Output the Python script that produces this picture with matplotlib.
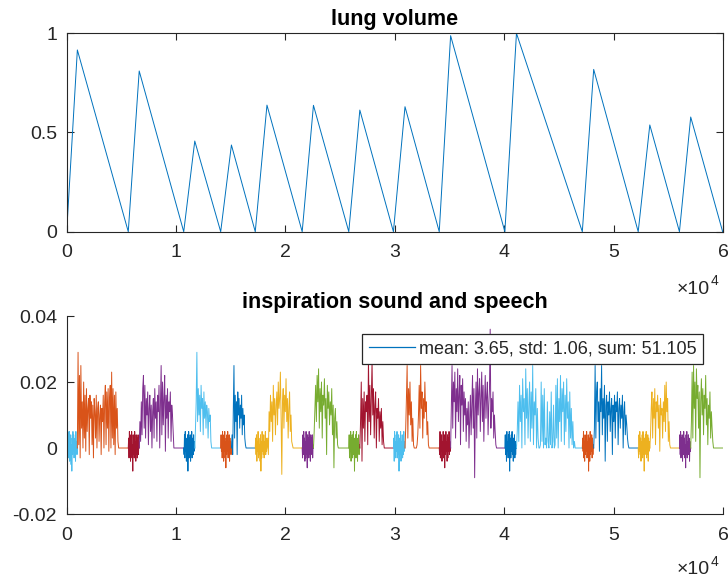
import numpy as np
import matplotlib.pyplot as plt
from matplotlib.lines import Line2D

plt.rcParams['font.family'] = ['Liberation Sans', 'DejaVu Sans']

# turning points of the lung volume trace (samples)
valley_x = [0, 5630, 10700, 14080, 17240, 21530, 25790, 29870, 34060, 40060, 47140, 52250, 56020, 59970]
peak_x = [976, 6630, 11710, 15060, 18310, 22560, 26800, 30930, 35100, 41120, 48180, 53310, 57050]
peak_vol = [0.916, 0.81, 0.457, 0.437, 0.638, 0.637, 0.613, 0.63, 0.988, 1.0, 0.818, 0.538, 0.578]

# where the speech part of each breath goes quiet
speech_end_x = [4750, 9800, 13250, 16400, 20700, 24900, 29100, 33200, 39300, 46700, 51400, 55200, 59200]

# matlab default colours
c_blue = '#0072BD'
c_orange = '#D95319'
c_yellow = '#EDB120'
c_purple = '#7E2F8E'
c_green = '#77AC30'
c_lblue = '#4DBEEE'
c_red = '#A2142F'

insp_colors = [c_lblue, c_red, c_blue, c_orange, c_yellow, c_purple, c_green,
               c_lblue, c_red, c_blue, c_orange, c_yellow, c_purple]
speech_colors = [c_orange, c_purple, c_lblue, c_blue, c_yellow, c_green, c_red,
                 c_orange, c_purple, c_lblue, c_blue, c_yellow, c_green]

# inspiration sound, values in 1e-3
insp_1 = [0, 4, -2, 5, -3, 3, -1, 5, -4, 2, -2, 4, -5, 1, -7, 3, -2, 5, -1, 4, -3, 2, -2, 3, -4, 5, -1, 2, -2, 0]
insp_2 = [0, 3, -3, 5, -2, 4, -4, 2, -1, 5, -3, 1, -7, 4, -2, 3, -3, 5, -1, 2, -4, 4, -2, 3, -3, 1, 4, -2, 2, 0]
insp_3 = [0, -2, 4, -3, 5, -1, 3, -4, 2, -2, 4, -7, 1, 5, -3, 3, -1, 4, -4, 2, -2, 5, -3, 1, 3, -2, 4, -1, 2, 0]
insp_4 = [0, 4, -1, 3, -3, 5, -2, 2, -4, 4, -1, 5, -3, 2, -6, 3, -2, 4, -1, 5, -3, 2, -2, 4, -4, 3, -1, 2, -2, 0]
insp_5 = [0, 3, -2, 4, -4, 2, -1, 5, -3, 3, -2, 1, -4, 4, -7, 2, -3, 5, -1, 3, -2, 4, -3, 2, -1, 5, -2, 3, -1, 0]
insp_6 = [0, -3, 4, -2, 5, -1, 3, -4, 2, -3, 5, -2, 1, -6, 4, -1, 3, -3, 5, -2, 2, -4, 4, -1, 3, -2, 4, -3, 1, 0]
insp_7 = [0, 4, -3, 2, -1, 5, -4, 3, -2, 4, -3, 1, 5, -2, 3, -7, 2, -1, 4, -3, 5, -2, 2, -4, 3, -1, 4, -2, 1, 0]
insp_8 = [0, 3, -4, 5, -2, 2, -3, 4, -1, 5, -3, 2, -2, 4, -7, 1, 3, -2, 5, -4, 2, -1, 4, -3, 3, -2, 5, -1, 2, 0]
insp_9 = [0, -2, 5, -3, 3, -1, 4, -4, 2, -2, 5, -3, 1, 4, -6, 3, -2, 5, -1, 2, -4, 4, -3, 3, -1, 5, -2, 2, -1, 0]
insp_10 = [0, 4, -2, 3, -4, 5, -1, 2, -3, 4, -2, 5, -7, 1, 3, -3, 4, -1, 5, -2, 2, -4, 3, -1, 4, -3, 2, -2, 1, 0]
insp_11 = [0, 3, -1, 5, -3, 2, -4, 4, -2, 3, -1, 5, -3, 2, -2, 4, -7, 1, 3, -4, 5, -2, 2, -1, 4, -3, 3, -2, 1, 0]
insp_12 = [0, -3, 4, -1, 5, -2, 3, -4, 2, -1, 4, -3, 5, -2, 1, -7, 3, -2, 4, -1, 5, -3, 2, -2, 4, -4, 3, -1, 2, 0]
insp_13 = [0, 4, -2, 5, -3, 3, -1, 4, -4, 2, -2, 5, -1, 3, -3, 1, -6, 4, -2, 5, -3, 2, -1, 4, -2, 3, -4, 2, -1, 0]

# speech, values in 1e-3
speech_1 = [0, 29, 1, 22, -3, 25, 6, 14, 0, 20, 3, 16, -1, 18, 5, 12, 15, -2, 16, 9, 14, 1, 13, -3, 15, 11, 3, 16, 0, 12,
            14, 2, 10, 13, -2, 12, 8, 16, 0, 14, 19, 1, 17, 6, 18, -1, 15, 19, 0, 23, 3, 18, 1, 16, -2, 17, 6, 12, 2, 0]
speech_2 = [0, 8, 2, 14, 4, 18, 22, 6, 19, 3, 15, 10, 17, 1, 12, 16, 5, 13, 0, 11, 15, 3, 18, 9, 14,
            2, 16, 11, 19, 0, 13, 25, 4, 20, 7, 15, 22, -1, 16, 9, 18, 3, 14, 11, 17, 2, 13, 10, 5, 0]
speech_3 = [0, 6, 14, 29, 8, 18, 10, 16, 5, 19, 12, 15, 4, 17, 9, 14, 6, 13, 11, 3, 12, 8, 10, 2, 0]
speech_4 = [0, 4, -2, 12, 25, 3, 16, 8, 14, -2, 17, 10, 15, 6, 13, 9, 16, 4, 12, 7, 10, 3, 1, 0]
speech_5 = [0, 3, -2, 11, 5, 16, 8, 14, 2, 19, 10, 15, 4, 13, 17, 7, 20, 12, 15, 23, 9, -8, 14, 18, 6,
            16, 11, 21, 8, 15, 3, 12, 17, 5, 10, 2, 1, 0]
speech_6 = [0, 5, 12, 19, 8, 22, 14, 24, 6, 18, 11, 20, 3, 16, 13, 21, 9, 15, -2, 19, 12, 17, 7, 14, 10,
            18, 4, 13, -6, 9, 12, 3, 8, 1, 0, 0]
speech_7 = [0, 8, 20, -4, 15, 6, 17, 2, 14, 11, 16, 1, 27, 8, 19, 4, 15, 26, 10, 18, 3, 13, 17, 0, 12,
            9, 15, 2, 11, 6, 12, 1, 8, 2, 0, 0]
speech_8 = [0, 6, 15, 25, 3, 18, 10, 20, 7, 14, 2, 9, 1, 0, 0, 0, 0, 1, 4, 10, 19, 6, 25, 12, 17,
            3, 15, 9, 20, 11, 14, 4, 8, 1, 0, 0]
speech_9 = [0, 12, 25, 6, 20, 14, 23, 3, 18, 11, 24, 8, 16, 22, 1, 19, 13, 21, 5, 17, 10, 15, 2, 12, 7,
            14, 0, 9, 16, 4, 13, 22, 6, 18, -9, 12, 20, 3, 24, 10, 17, 21, 5, 15, 23, 8, 19, 2, 14, 22,
            9, 16, 20, 4, 13, 18, 36, 6, 15, 11, 17, 3, 10, 5, 1, 0]
speech_10 = [0, 5, 14, 2, 19, 8, 16, 0, 21, 11, 15, 1, 24, 9, 18, 3, 13, 20, 2, 17, 6, 25, 1, 14, 10,
             18, 0, 12, 3, 0, 0, 1, 20, 2, 16, 0, 18, 1, 3, 0, 14, 2, 0, 11, 1, 17, 0, 2, 13, 0,
             1, 19, 3, 21, 0, 15, 8, 22, 2, 18, 11, 20, 1, 16, 5, 21, 9, 14, 0, 17, 3, 12, 1, 8, 0,
             2, 0, 0, 0, 0]
speech_11 = [0, 6, 25, 3, 17, 20, 8, 14, -1, 18, 11, 25, 4, 15, 9, 19, -4, 13, 16, 2, 14, 10, 17, 5, 12,
             15, -2, 13, 8, 16, 3, 14, 11, 17, 1, 12, 15, 6, 13, 9, 16, 0, 11, 14, 4, 10, 7, 3, 1, 0]
speech_12 = [0, 4, 12, 17, 3, 15, 9, 18, 1, 14, 11, 16, 6, 13, -1, 15, 10, 12, 3, 14, 8, 19, 5, 20, 11,
             15, 2, 8, 1, 0]
speech_13 = [0, 8, 23, 3, 25, 12, 20, 2, 24, 15, 19, 6, 17, -9, 14, 21, 10, 18, 4, 16, 12, 22, 7, 15, 1,
             13, 9, 17, 3, 11, 6, 2, 0, 0]

insp_all = [insp_1, insp_2, insp_3, insp_4, insp_5, insp_6, insp_7, insp_8, insp_9, insp_10, insp_11, insp_12, insp_13]
speech_all = [speech_1, speech_2, speech_3, speech_4, speech_5, speech_6, speech_7, speech_8, speech_9,
              speech_10, speech_11, speech_12, speech_13]

axis_col = '#262626'

fig = plt.figure(figsize=(7.28, 5.81), dpi=100)
ax1 = fig.add_axes([0.0916, 0.6012, 0.9015, 0.3415])
ax2 = fig.add_axes([0.0916, 0.1153, 0.9015, 0.3408])

# top: lung volume sawtooth
vol_x = []
vol_y = []
for i in range(len(peak_x)):
    vol_x += [valley_x[i], peak_x[i]]
    vol_y += [0, peak_vol[i]]
vol_x.append(valley_x[-1])
vol_y.append(0)
ax1.plot(vol_x, vol_y, color=c_blue, lw=0.7)
ax1.set_xlim(0, 60000)
ax1.set_ylim(0, 1)
ax1.set_yticks([0, 0.5, 1])
ax1.set_yticklabels(['0', '0.5', '1'])
ax1.set_title('lung volume', fontsize=15.5, fontweight='bold', color='black', pad=6)

# bottom: inspiration sound + speech
for i in range(len(peak_x)):
    iv = np.array(insp_all[i]) * 1e-3
    ix = np.linspace(valley_x[i], peak_x[i], len(iv))
    ax2.plot(ix, iv, color=insp_colors[i], lw=0.7)
    sv = np.array(speech_all[i]) * 1e-3
    sx = np.linspace(peak_x[i], speech_end_x[i], len(sv))
    sx = np.append(sx, valley_x[i + 1])
    sv = np.append(sv, 0)
    ax2.plot(sx, sv, color=speech_colors[i], lw=0.7)
ax2.set_xlim(0, 60000)
ax2.set_ylim(-0.02, 0.04)
ax2.set_yticks([-0.02, 0, 0.02, 0.04])
ax2.set_yticklabels(['-0.02', '0', '0.02', '0.04'])
ax2.set_title('inspiration sound and speech', fontsize=15.5, fontweight='bold', color='black', pad=6)
ax2.spines['top'].set_visible(False)
ax2.spines['right'].set_visible(False)

leg = ax2.legend([Line2D([0], [0], color=c_blue, lw=0.9)], ['mean: 3.65, std: 1.06, sum: 51.105'],
                 loc='upper right', bbox_to_anchor=(0.9696, 0.909), borderaxespad=0,
                 fontsize=13, fancybox=False, framealpha=1, edgecolor=axis_col,
                 handlelength=2.6, handletextpad=0.2, borderpad=0.35)
leg.get_frame().set_linewidth(0.9)
for t in leg.get_texts():
    t.set_color(axis_col)

for ax in (ax1, ax2):
    ax.set_xticks(np.arange(0, 60001, 10000))
    ax.set_xticklabels([str(k) for k in range(7)])
    ax.tick_params(direction='in', length=5, width=0.8, labelsize=14, colors=axis_col, pad=7)
    ax.tick_params(axis='x', pad=9)
    for s in ax.spines.values():
        s.set_color(axis_col)
        s.set_linewidth(0.8)
ax1.tick_params(top=True, right=True)

# x10^4 exponent labels
for yc in (289, 570):
    fig.text(710 / 728, 1 - yc / 581, '×10', ha='right', va='center', fontsize=14, color=axis_col)
    fig.text(711 / 728, 1 - (yc - 8) / 581, '4', ha='left', va='center', fontsize=10, color=axis_col)

fig.savefig('out.png', dpi=100)
